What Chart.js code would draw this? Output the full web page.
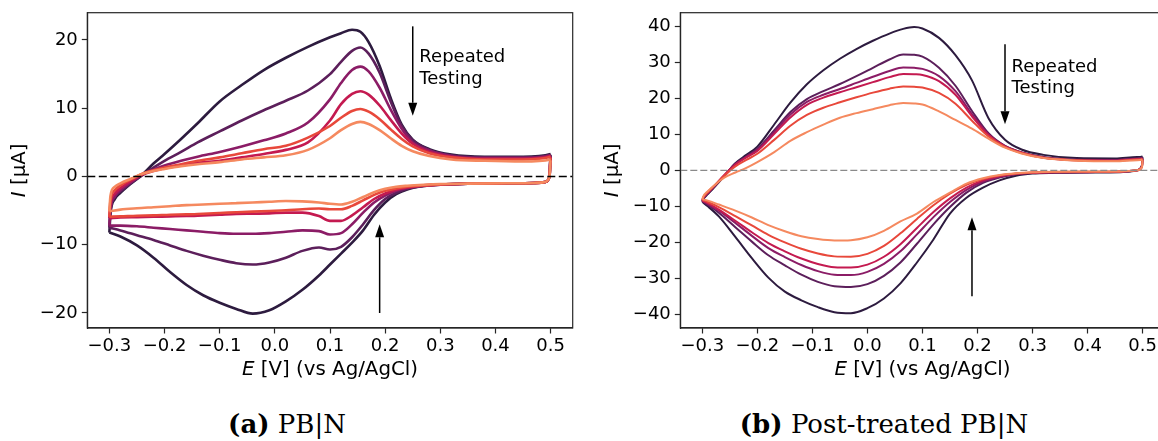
<!DOCTYPE html>
<html>
<head>
<meta charset="utf-8">
<script src="https://cdn.jsdelivr.net/npm/chart.js@4.4.1/dist/chart.umd.min.js"></script>
<style>
html, body { margin: 0; padding: 0; background: #fff; }
#wrap { position: relative; width: 1158px; height: 441px; overflow: hidden; background: #fff; }
canvas { position: absolute; top: 0; }
#cvA { left: 0; }
#cvB { left: 580px; }
.cap { position: absolute; top: 409px; line-height: 30px; font-family: "DejaVu Serif", serif; font-size: 26px;
       white-space: nowrap; transform: translateX(-50%); color: #000; }
</style>
</head>
<body>
<div id="wrap">
  <canvas id="cvA" width="580" height="395"></canvas>
  <canvas id="cvB" width="600" height="395"></canvas>
  <div class="cap" style="left:287px"><b>(a)</b> PB|N</div>
  <div class="cap" style="left:884px"><b>(b)</b> Post-treated PB|N</div>
</div>
<script>
// colours of the six successive cycles, first to last
const cycleColors = ['#2d1b3f', '#5c1f5b', '#8b1c66', '#c41a50', '#e8483b', '#f5895f'];

const xTicks = [-0.3, -0.2, -0.1, 0.0, 0.1, 0.2, 0.3, 0.4, 0.5];
const yTicksA = [-20, -10, 0, 10, 20];
const yTicksB = [-40, -30, -20, -10, 0, 10, 20, 30, 40];

// (a) PB|N : forward scan (-0.3 -> 0.5 V) then reverse scan (0.5 -> -0.3 V)
const potentialFwdA = [-0.3, -0.298, -0.29, -0.28, -0.26, -0.24, -0.22, -0.2, -0.17, -0.14, -0.1, -0.06, -0.02, 0.02, 0.06,
                       0.1, 0.12, 0.14, 0.155, 0.17, 0.19, 0.21, 0.23, 0.25, 0.28, 0.32, 0.38, 0.45, 0.5];
const potentialRevA = [0.498, 0.49, 0.47, 0.42, 0.35, 0.3, 0.27, 0.24, 0.22, 0.2, 0.18, 0.16, 0.14, 0.12, 0.1, 0.08, 0.05,
                       0.02, -0.01, -0.04, -0.07, -0.1, -0.13, -0.16, -0.19, -0.22, -0.25, -0.28, -0.3];
const anodicA = [
  [-8.2, -5.5, -3.3, -2.4, -1.0, 0.3, 1.9, 3.3, 5.5, 7.8, 11.0, 13.4, 15.6, 17.4, 19.0, 20.4, 21.0, 21.5, 21.2, 19.7, 16.2, 11.5, 7.6, 5.4, 4.0, 3.2, 2.9, 2.9, 3.3],
  [-7.5, -5.0, -3.0, -2.2, -0.9, 0.2, 1.3, 2.3, 3.6, 5.0, 6.6, 8.2, 9.7, 11.1, 12.6, 15.0, 16.8, 18.4, 18.9, 18.0, 15.2, 11.0, 7.4, 5.3, 3.9, 3.1, 2.8, 2.8, 3.2],
  [-7.2, -4.8, -2.9, -2.0, -0.8, 0.3, 1.0, 1.6, 2.3, 2.9, 3.6, 4.4, 5.3, 6.3, 7.9, 11.3, 13.7, 15.6, 16.1, 15.4, 13.0, 9.8, 7.0, 5.0, 3.8, 3.0, 2.7, 2.7, 3.1],
  [-6.1, -4.0, -2.5, -1.7, -0.6, 0.3, 0.8, 1.2, 1.6, 2.0, 2.3, 2.8, 3.3, 3.9, 5.0, 8.2, 10.6, 12.1, 12.5, 12.0, 10.4, 8.3, 6.3, 4.8, 3.6, 2.9, 2.6, 2.6, 3.0],
  [-5.9, -3.5, -2.0, -1.3, -0.4, 0.4, 0.9, 1.3, 1.8, 2.3, 2.8, 3.4, 4.0, 4.5, 5.7, 7.4, 8.6, 9.6, 9.9, 9.5, 8.4, 6.9, 5.5, 4.4, 3.4, 2.8, 2.5, 2.5, 2.9],
  [-5.1, -2.8, -1.5, -1.0, -0.3, 0.4, 0.8, 1.1, 1.5, 1.8, 2.1, 2.5, 2.8, 3.1, 3.9, 5.6, 6.8, 7.7, 8.0, 7.7, 6.8, 5.6, 4.5, 3.7, 3.0, 2.5, 2.3, 2.2, 2.5]
];
const cathodicA = [
  [0.0, -0.8, -0.95, -1.0, -1.05, -1.2, -1.4, -1.9, -2.6, -3.8, -5.6, -7.9, -9.7, -11.3, -12.9, -14.5, -16.6, -18.3, -19.6, -20.1, -19.4, -18.5, -17.4, -15.9, -14.0, -11.9, -10.1, -8.8, -8.2],
  [0.0, -0.8, -0.95, -1.0, -1.05, -1.2, -1.4, -1.8, -2.4, -3.3, -4.9, -7.0, -8.9, -10.3, -10.7, -10.4, -10.9, -11.9, -12.6, -12.9, -12.7, -12.2, -11.6, -10.9, -10.1, -9.3, -8.6, -7.9, -7.5],
  [0.0, -0.8, -0.95, -1.0, -1.05, -1.2, -1.35, -1.7, -2.1, -2.8, -3.8, -5.3, -7.0, -8.3, -8.5, -8.0, -7.9, -8.1, -8.3, -8.4, -8.4, -8.3, -8.1, -7.9, -7.7, -7.5, -7.3, -7.2, -7.2],
  [0.0, -0.8, -0.95, -1.0, -1.05, -1.15, -1.3, -1.6, -1.95, -2.5, -3.3, -4.5, -5.7, -6.5, -6.5, -5.8, -5.3, -5.3, -5.4, -5.45, -5.5, -5.6, -5.7, -5.8, -5.85, -5.9, -5.95, -6.0, -6.1],
  [0.0, -0.8, -0.95, -1.0, -1.05, -1.15, -1.3, -1.5, -1.75, -2.1, -2.7, -3.5, -4.3, -4.8, -4.8, -4.7, -4.8, -4.95, -5.05, -5.15, -5.25, -5.35, -5.45, -5.55, -5.6, -5.7, -5.75, -5.85, -5.9],
  [0.0, -0.8, -0.95, -1.0, -1.05, -1.1, -1.2, -1.35, -1.5, -1.8, -2.3, -3.0, -3.7, -4.1, -4.0, -3.8, -3.65, -3.6, -3.7, -3.8, -3.9, -4.0, -4.1, -4.2, -4.35, -4.5, -4.65, -4.85, -5.1]
];

// (b) Post-treated PB|N
const potentialFwdB = [-0.3, -0.298, -0.29, -0.28, -0.26, -0.24, -0.22, -0.2, -0.17, -0.14, -0.11, -0.08, -0.05, -0.02, 0.01,
                       0.04, 0.065, 0.085, 0.1, 0.13, 0.16, 0.19, 0.22, 0.25, 0.28, 0.32, 0.38, 0.45, 0.49, 0.5];
const potentialRevB = [0.499, 0.49, 0.46, 0.4, 0.34, 0.3, 0.27, 0.24, 0.21, 0.18, 0.15, 0.12, 0.09, 0.06, 0.03, 0.0,
                       -0.03, -0.06, -0.09, -0.12, -0.15, -0.18, -0.21, -0.24, -0.27, -0.29, -0.3];
const anodicB = [
  [-8.8, -8.0, -6.6, -5.0, -1.6, 2.0, 4.3, 6.6, 12.6, 18.8, 23.9, 27.8, 31.0, 33.7, 36.0, 38.0, 39.3, 39.8, 39.4, 36.8, 32.0, 25.0, 14.5, 8.5, 5.8, 4.3, 3.4, 3.3, 3.7, 3.9],
  [-8.6, -7.8, -6.4, -4.8, -1.5, 1.8, 3.9, 6.0, 11.0, 16.2, 19.8, 22.0, 24.0, 26.2, 28.5, 30.8, 32.2, 32.1, 31.6, 28.5, 23.5, 16.5, 10.3, 6.8, 5.0, 3.7, 3.0, 2.9, 3.3, 3.6],
  [-8.5, -7.7, -6.3, -4.7, -1.4, 1.7, 3.7, 5.7, 10.5, 15.5, 19.0, 21.0, 22.6, 24.3, 26.0, 27.6, 28.6, 28.5, 28.2, 26.2, 22.0, 15.6, 10.0, 6.7, 5.0, 3.6, 2.9, 2.8, 3.2, 3.4],
  [-8.4, -7.6, -6.2, -4.6, -1.3, 1.6, 3.6, 5.4, 10.0, 14.7, 18.2, 20.2, 21.7, 23.1, 24.5, 25.9, 26.8, 26.7, 26.5, 24.8, 21.0, 15.0, 9.8, 6.6, 4.9, 3.5, 2.8, 2.7, 3.1, 3.3],
  [-8.2, -7.4, -6.0, -4.5, -1.5, 1.1, 2.9, 4.6, 8.4, 12.4, 15.4, 17.4, 18.9, 20.3, 21.6, 22.7, 23.3, 23.2, 23.0, 21.5, 18.5, 13.8, 9.4, 6.5, 4.8, 3.5, 2.8, 2.6, 3.0, 3.2],
  [-8.0, -7.2, -5.8, -4.4, -2.0, -0.6, 0.7, 2.3, 5.0, 8.2, 10.6, 12.7, 14.6, 15.9, 17.0, 18.1, 18.7, 18.6, 18.3, 16.4, 14.0, 11.6, 8.8, 6.3, 4.7, 3.4, 2.7, 2.5, 2.8, 3.0]
];
const cathodicB = [
  [1.5, 0.0, -0.5, -0.6, -0.7, -0.9, -1.5, -2.8, -4.8, -7.6, -12.0, -19.2, -25.6, -31.4, -35.6, -38.3, -39.7, -39.4, -38.0, -36.1, -33.7, -29.8, -24.4, -18.5, -12.8, -10.0, -8.8],
  [1.3, 0.0, -0.4, -0.5, -0.6, -0.75, -1.1, -2.0, -3.5, -6.2, -10.2, -15.0, -20.4, -25.6, -29.3, -31.6, -32.4, -32.2, -31.0, -29.0, -26.4, -23.6, -19.8, -15.8, -11.8, -9.6, -8.6],
  [1.2, 0.0, -0.4, -0.5, -0.55, -0.7, -1.0, -1.8, -3.1, -5.4, -8.8, -13.0, -17.8, -22.5, -26.0, -28.2, -29.1, -29.0, -28.0, -26.3, -24.1, -21.6, -18.2, -14.6, -11.2, -9.3, -8.5],
  [1.1, 0.0, -0.35, -0.45, -0.5, -0.65, -0.95, -1.6, -2.8, -4.8, -7.8, -11.6, -16.0, -20.5, -24.0, -26.2, -27.0, -26.9, -26.0, -24.5, -22.5, -20.2, -17.2, -14.0, -10.9, -9.1, -8.4],
  [1.0, 0.0, -0.3, -0.4, -0.45, -0.6, -0.9, -1.4, -2.4, -4.0, -6.5, -9.7, -13.5, -17.5, -21.0, -23.2, -24.0, -23.9, -23.1, -21.8, -20.0, -17.9, -15.3, -12.7, -10.2, -8.8, -8.2],
  [0.9, 0.0, -0.3, -0.35, -0.4, -0.55, -0.8, -1.3, -2.2, -3.7, -6.2, -8.8, -12.0, -14.2, -16.8, -18.6, -19.4, -19.5, -19.1, -18.3, -16.9, -15.2, -13.1, -11.2, -9.5, -8.4, -8.0]
];

// "Repeated Testing" arrows (x in V, from/to in uA) and label anchors
const arrowsA = [{x: 0.25, from: 22.0, to: 8.9}, {x: 0.19, from: -20.0, to: -7.0}];
const arrowsB = [{x: 0.25, from: 35.0, to: 12.8}, {x: 0.19, from: -35.0, to: -13.0}];
const noteA = {x: 0.262, y: 17.4, lines: ['Repeated', 'Testing']};
const noteB = {x: 0.262, y: 28.7, lines: ['Repeated', 'Testing']};

const FONT = '"DejaVu Sans"';
const INK = '#262626';

function minusSign(s) { return String(s).replace('-', '\u2212'); }

function loopPoints(fwdE, revE, fwdI, revI) {
    const pts = fwdE.map((e, k) => ({x: e, y: fwdI[k]}));
    revE.forEach((e, k) => pts.push({x: e, y: revI[k]}));
    return pts;
}

function drawMixed(ctx, parts, cx, cy, size) {
    const fonts = parts.map(p => (p[1] ? 'italic ' : '') + size + 'px ' + FONT);
    let w = 0;
    parts.forEach((p, i) => { ctx.font = fonts[i]; w += ctx.measureText(p[0]).width; });
    let x = cx - w / 2;
    parts.forEach((p, i) => {
        ctx.font = fonts[i];
        ctx.fillText(p[0], x, cy);
        x += ctx.measureText(p[0]).width;
    });
}

function drawArrow(ctx, x, y0, y1)
{
    const dir = Math.sign(y1 - y0);
    const headLen = 13, headW = 4.5;
    ctx.beginPath();
    ctx.moveTo(x, y0);
    ctx.lineTo(x, y1 - dir * headLen);
    ctx.stroke();
    ctx.beginPath();
    ctx.moveTo(x, y1);
    ctx.lineTo(x - headW, y1 - dir * headLen);
    ctx.lineTo(x + headW, y1 - dir * headLen);
    ctx.closePath();
    ctx.fill();
}

function panelPlugin(p)
{
    return {
        id: 'panelExtras',
        afterDatasetsDraw(chart) {
            const {ctx, chartArea: a, scales: {y}} = chart;
            // dashed zero line
            ctx.save();
            ctx.beginPath();
            ctx.rect(a.left, a.top, a.right - a.left, a.bottom - a.top);
            ctx.clip();
            ctx.strokeStyle = p.zeroColor;
            ctx.lineWidth = p.zeroWidth;
            ctx.setLineDash(p.zeroDash);
            const py = y.getPixelForValue(0);
            ctx.beginPath();
            ctx.moveTo(a.left, py);
            ctx.lineTo(a.right, py);
            ctx.stroke();
            ctx.restore();
        },
        afterDraw(chart) {
            const {ctx, chartArea: a, scales: {x, y}} = chart;
            ctx.save();
            // frame
            ctx.strokeStyle = INK;
            ctx.lineWidth = 1.2;
            ctx.strokeRect(a.left, a.top, a.right - a.left, a.bottom - a.top);
            // arrows
            ctx.strokeStyle = '#000';
            ctx.fillStyle = '#000';
            ctx.lineWidth = 1.5;
            p.arrows.forEach(ar => drawArrow(ctx, x.getPixelForValue(ar.x), y.getPixelForValue(ar.from), y.getPixelForValue(ar.to)));
            // note text
            ctx.font = '18px ' + FONT;
            ctx.textAlign = 'left';
            ctx.textBaseline = 'middle';
            const lx = x.getPixelForValue(p.note.x), ly = y.getPixelForValue(p.note.y);
            p.note.lines.forEach((t, k) => ctx.fillText(t, lx, ly + k * 21.6));
            // axis titles
            drawMixed(ctx, [['E', true], [' [V] (vs Ag/AgCl)', false]], (a.left + a.right) / 2, a.bottom + 42, 19.8);
            ctx.translate(a.left - 67, (a.top + a.bottom) / 2);
            ctx.rotate(-Math.PI / 2);
            drawMixed(ctx, [['I', true], [' [\u03bcA]', false]], 0, 0, 19.8);
            ctx.restore();
        }
    };
}

function createPanel(p)
{
    const canvas = document.getElementById(p.id);
    const W = canvas.width, H = canvas.height;
    const datasets = p.anodic.map((fwd, i) => ({
        data: loopPoints(p.fwdE, p.revE, fwd, p.cathodic[i]),
        borderColor: cycleColors[i],
        borderWidth: p.lineWidth,
        pointRadius: 0,
        showLine: true,
        fill: false,
        cubicInterpolationMode: 'monotone',
        order: cycleColors.length - 1 - i
    }));
    const tickFont = {family: 'DejaVu Sans', size: 18};
    const gridOpts = {drawOnChartArea: false, drawTicks: true, tickLength: 5.5, tickWidth: 1.2, tickColor: INK};
    new Chart(canvas.getContext('2d'),
    {
        type: 'scatter',
        data: {datasets},
        options: {
            responsive: false,
            animation: false,
            devicePixelRatio: 1,
            events: [],
            layout: {padding: {left: 0, top: p.area.top, right: W - p.area.right, bottom: 0}},
            plugins: {legend: {display: false}, tooltip: {enabled: false}},
            scales: {
                x: {
                    type: 'linear',
                    min: -0.34,
                    max: 0.54,
                    afterBuildTicks: s => { s.ticks = xTicks.map(v => ({value: v})); },
                    afterFit: s => { s.height = H - p.area.bottom; s.paddingLeft = 0; s.paddingRight = 0; },
                    ticks: {font: tickFont, color: '#000', padding: 2, autoSkip: false, maxRotation: 0,
                            callback: v => minusSign(v.toFixed(1))},
                    grid: gridOpts,
                    border: {display: true, color: INK, width: 1.2}
                },
                y: {
                    type: 'linear',
                    min: p.yMin,
                    max: p.yMax,
                    afterBuildTicks: s => { s.ticks = p.yTicks.map(v => ({value: v})); },
                    afterFit: s => { s.width = p.area.left; s.paddingTop = 0; s.paddingBottom = 0; },
                    ticks: {font: tickFont, color: '#000', padding: 4, autoSkip: false,
                            callback: v => minusSign(v)},
                    grid: gridOpts,
                    border: {display: true, color: INK, width: 1.2}
                }
            }
        },
        plugins: [panelPlugin(p)]
    });
}

createPanel({
    id: 'cvA', area: {left: 87.3, top: 12.7, right: 572.7, bottom: 328},
    yMin: -22.2, yMax: 24.0, yTicks: yTicksA,
    fwdE: potentialFwdA, revE: potentialRevA, anodic: anodicA, cathodic: cathodicA,
    lineWidth: 2.6, zeroColor: '#000', zeroWidth: 1.5, zeroDash: [8, 3.5],
    arrows: arrowsA, note: noteA
});

createPanel({
    id: 'cvB', area: {left: 100.3, top: 12.7, right: 584.6, bottom: 328},
    yMin: -43.8, yMax: 43.8, yTicks: yTicksB,
    fwdE: potentialFwdB, revE: potentialRevB, anodic: anodicB, cathodic: cathodicB,
    lineWidth: 2.0, zeroColor: '#8a8a8a', zeroWidth: 1.2, zeroDash: [7, 3],
    arrows: arrowsB, note: noteB
});
</script>
</body>
</html>
